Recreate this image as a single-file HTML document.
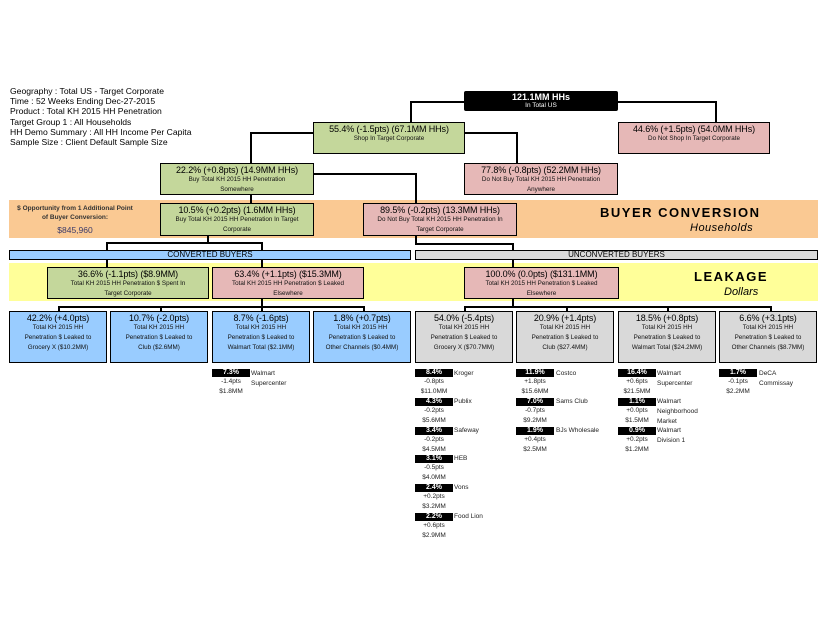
<!DOCTYPE html>
<html><head><meta charset="utf-8"><style>
body{margin:0;width:825px;height:638px;background:#fff;position:relative;font-family:"Liberation Sans",sans-serif;overflow:hidden}
div{position:absolute;box-sizing:border-box}
.b{border:1.5px solid #000;text-align:center;line-height:1.15}
.t{font-size:9px;color:#000;margin-top:1px;letter-spacing:-0.1px}
.s{font-size:6.3px;line-height:10px;color:#111}
.g{background:#c4d79b}.p{background:#e6b8b7}.bl{background:#99ccff}.gr{background:#d9d9d9}
.h{background:#000;height:1.5px}.v{background:#000;width:1.5px}
.info{left:10px;top:86px;font-size:8.6px;line-height:10.2px;color:#000}
.k{background:#000;color:#fff;font-size:7px;font-weight:bold;text-align:center;width:38px;height:8px;line-height:8px}
.sm{font-size:6.5px;color:#222;text-align:center;width:38px}
.nm{font-size:6.5px;color:#222;line-height:10px}
</style></head><body>
<div class="info">Geography : Total US - Target Corporate<br>Time : 52 Weeks Ending Dec-27-2015<br>Product : Total KH 2015 HH Penetration<br>Target Group 1 : All Households<br>HH Demo Summary : All HH Income Per Capita<br>Sample Size : Client Default Sample Size</div>

<div style="left:9px;top:200px;width:809px;height:38px;background:#fac993"></div>
<div style="left:9px;top:263px;width:809px;height:38px;background:#ffff99"></div>

<!-- connectors -->
<div class="h" style="left:410px;top:101px;width:54px"></div><div class="v" style="left:410px;top:101px;height:21px"></div>
<div class="h" style="left:618px;top:101px;width:98px"></div><div class="v" style="left:715px;top:101px;height:21px"></div>
<div class="h" style="left:250px;top:132px;width:63px"></div><div class="v" style="left:250px;top:132px;height:31px"></div>
<div class="h" style="left:465px;top:132px;width:52px"></div><div class="v" style="left:516px;top:132px;height:31px"></div>
<div class="v" style="left:250px;top:194px;height:9px"></div>
<div class="h" style="left:313px;top:173px;width:103px"></div><div class="v" style="left:415px;top:173px;height:30px"></div>
<div class="v" style="left:207px;top:235px;height:8px"></div><div class="h" style="left:106px;top:242px;width:156px"></div>
<div class="v" style="left:106px;top:242px;height:8px"></div><div class="v" style="left:261px;top:242px;height:8px"></div>
<div class="v" style="left:415px;top:235px;height:9px"></div><div class="h" style="left:415px;top:243px;width:98px"></div><div class="v" style="left:512px;top:243px;height:7px"></div>
<div class="v" style="left:106px;top:259px;height:8px"></div><div class="v" style="left:261px;top:259px;height:8px"></div><div class="v" style="left:512px;top:259px;height:8px"></div>
<div class="v" style="left:261px;top:298px;height:9px"></div><div class="h" style="left:58px;top:306px;width:306px"></div>
<div class="v" style="left:58px;top:306px;height:5px"></div><div class="v" style="left:160px;top:306px;height:5px"></div><div class="v" style="left:261px;top:306px;height:5px"></div><div class="v" style="left:363px;top:306px;height:5px"></div>
<div class="v" style="left:512px;top:298px;height:9px"></div><div class="h" style="left:464px;top:306px;width:307px"></div>
<div class="v" style="left:464px;top:306px;height:5px"></div><div class="v" style="left:566px;top:306px;height:5px"></div><div class="v" style="left:667px;top:306px;height:5px"></div><div class="v" style="left:770px;top:306px;height:5px"></div>

<!-- boxes -->
<div class="b" style="left:464px;top:91px;width:154px;height:20px;background:#000;color:#fff;border-radius:2px"><div style="font-size:9px;font-weight:bold;position:static">121.1MM HHs</div><div style="font-size:6.5px;position:static">In Total US</div></div>
<div class="b g" style="left:313px;top:122px;width:152px;height:32px"><div class="t" style="position:static">55.4% (-1.5pts) (67.1MM HHs)</div><div class="s" style="position:static">Shop In Target Corporate</div></div>
<div class="b p" style="left:618px;top:122px;width:152px;height:32px"><div class="t" style="position:static">44.6% (+1.5pts) (54.0MM HHs)</div><div class="s" style="position:static">Do Not Shop In Target Corporate</div></div>
<div class="b g" style="left:160px;top:163px;width:154px;height:32px"><div class="t" style="position:static">22.2% (+0.8pts) (14.9MM HHs)</div><div class="s" style="position:static">Buy Total KH 2015 HH Penetration<br>Somewhere</div></div>
<div class="b p" style="left:464px;top:163px;width:154px;height:32px"><div class="t" style="position:static">77.8% (-0.8pts) (52.2MM HHs)</div><div class="s" style="position:static">Do Not Buy Total KH 2015 HH Penetration<br>Anywhere</div></div>
<div class="b g" style="left:160px;top:203px;width:154px;height:33px"><div class="t" style="position:static">10.5% (+0.2pts) (1.6MM HHs)</div><div class="s" style="position:static">Buy Total KH 2015 HH Penetration In Target<br>Corporate</div></div>
<div class="b p" style="left:363px;top:203px;width:154px;height:33px"><div class="t" style="position:static">89.5% (-0.2pts) (13.3MM HHs)</div><div class="s" style="position:static">Do Not Buy Total KH 2015 HH Penetration In<br>Target Corporate</div></div>

<div style="left:10px;top:204px;width:130px;text-align:center;font-size:6.5px;font-weight:bold;color:#333;line-height:9px">$ Opportunity from 1 Additional Point<br>of Buyer Conversion:</div>
<div style="left:10px;top:225px;width:130px;text-align:center;font-size:8.5px;color:#3a3a6a">$845,960</div>
<div style="left:600px;top:205px;font-size:13px;font-weight:bold;letter-spacing:1.5px">BUYER CONVERSION</div>
<div style="left:690px;top:222px;font-size:11px;font-style:italic;letter-spacing:0.5px">Households</div>

<div class="b bl" style="left:9px;top:250px;width:402px;height:10px;font-size:8px;line-height:7px">CONVERTED BUYERS</div>
<div class="b gr" style="left:415px;top:250px;width:403px;height:10px;font-size:8px;line-height:7px">UNCONVERTED BUYERS</div>

<div class="b g" style="left:47px;top:267px;width:162px;height:32px"><div class="t" style="position:static">36.6% (-1.1pts) ($8.9MM)</div><div class="s" style="position:static">Total KH 2015 HH Penetration $ Spent In<br>Target Corporate</div></div>
<div class="b p" style="left:212px;top:267px;width:152px;height:32px"><div class="t" style="position:static">63.4% (+1.1pts) ($15.3MM)</div><div class="s" style="position:static">Total KH 2015 HH Penetration $ Leaked<br>Elsewhere</div></div>
<div class="b p" style="left:464px;top:267px;width:155px;height:32px"><div class="t" style="position:static">100.0% (0.0pts) ($131.1MM)</div><div class="s" style="position:static">Total KH 2015 HH Penetration $ Leaked<br>Elsewhere</div></div>
<div style="left:694px;top:269px;font-size:13px;font-weight:bold;letter-spacing:1.5px">LEAKAGE</div>
<div style="left:724px;top:286px;font-size:11px;font-style:italic">Dollars</div>

<div class="b bl" style="left:9px;top:311px;width:98px;height:52px"><div class="t" style="position:static">42.2% (+4.0pts)</div><div class="s" style="position:static">Total KH 2015 HH<br>Penetration $ Leaked to<br>Grocery X ($10.2MM)</div></div>
<div class="b bl" style="left:110px;top:311px;width:98px;height:52px"><div class="t" style="position:static">10.7% (-2.0pts)</div><div class="s" style="position:static">Total KH 2015 HH<br>Penetration $ Leaked to<br>Club ($2.6MM)</div></div>
<div class="b bl" style="left:212px;top:311px;width:98px;height:52px"><div class="t" style="position:static">8.7% (-1.6pts)</div><div class="s" style="position:static">Total KH 2015 HH<br>Penetration $ Leaked to<br>Walmart Total ($2.1MM)</div></div>
<div class="b bl" style="left:313px;top:311px;width:98px;height:52px"><div class="t" style="position:static">1.8% (+0.7pts)</div><div class="s" style="position:static">Total KH 2015 HH<br>Penetration $ Leaked to<br>Other Channels ($0.4MM)</div></div>
<div class="b gr" style="left:415px;top:311px;width:98px;height:52px"><div class="t" style="position:static">54.0% (-5.4pts)</div><div class="s" style="position:static">Total KH 2015 HH<br>Penetration $ Leaked to<br>Grocery X ($70.7MM)</div></div>
<div class="b gr" style="left:516px;top:311px;width:98px;height:52px"><div class="t" style="position:static">20.9% (+1.4pts)</div><div class="s" style="position:static">Total KH 2015 HH<br>Penetration $ Leaked to<br>Club ($27.4MM)</div></div>
<div class="b gr" style="left:618px;top:311px;width:98px;height:52px"><div class="t" style="position:static">18.5% (+0.8pts)</div><div class="s" style="position:static">Total KH 2015 HH<br>Penetration $ Leaked to<br>Walmart Total ($24.2MM)</div></div>
<div class="b gr" style="left:719px;top:311px;width:98px;height:52px"><div class="t" style="position:static">6.6% (+3.1pts)</div><div class="s" style="position:static">Total KH 2015 HH<br>Penetration $ Leaked to<br>Other Channels ($8.7MM)</div></div>

<!-- sub items -->
<div class="k" style="left:212px;top:369px">7.3%</div><div class="sm" style="left:212px;top:378px">-1.4pts</div><div class="sm" style="left:212px;top:388px">$1.8MM</div><div class="nm" style="left:251px;top:369px">Walmart<br>Supercenter</div>

<div class="k" style="left:415px;top:369px">8.4%</div><div class="sm" style="left:415px;top:378px">-0.8pts</div><div class="sm" style="left:415px;top:388px">$11.0MM</div><div class="nm" style="left:454px;top:369px">Kroger</div>
<div class="k" style="left:415px;top:398px">4.3%</div><div class="sm" style="left:415px;top:407px">-0.2pts</div><div class="sm" style="left:415px;top:417px">$5.6MM</div><div class="nm" style="left:454px;top:397px">Publix</div>
<div class="k" style="left:415px;top:427px">3.4%</div><div class="sm" style="left:415px;top:436px">-0.2pts</div><div class="sm" style="left:415px;top:446px">$4.5MM</div><div class="nm" style="left:454px;top:426px">Safeway</div>
<div class="k" style="left:415px;top:455px">3.1%</div><div class="sm" style="left:415px;top:464px">-0.5pts</div><div class="sm" style="left:415px;top:474px">$4.0MM</div><div class="nm" style="left:454px;top:454px">HEB</div>
<div class="k" style="left:415px;top:484px">2.4%</div><div class="sm" style="left:415px;top:493px">+0.2pts</div><div class="sm" style="left:415px;top:503px">$3.2MM</div><div class="nm" style="left:454px;top:483px">Vons</div>
<div class="k" style="left:415px;top:513px">2.2%</div><div class="sm" style="left:415px;top:522px">+0.6pts</div><div class="sm" style="left:415px;top:532px">$2.9MM</div><div class="nm" style="left:454px;top:512px">Food Lion</div>

<div class="k" style="left:516px;top:369px">11.9%</div><div class="sm" style="left:516px;top:378px">+1.8pts</div><div class="sm" style="left:516px;top:388px">$15.6MM</div><div class="nm" style="left:556px;top:369px">Costco</div>
<div class="k" style="left:516px;top:398px">7.0%</div><div class="sm" style="left:516px;top:407px">-0.7pts</div><div class="sm" style="left:516px;top:417px">$9.2MM</div><div class="nm" style="left:556px;top:397px">Sams Club</div>
<div class="k" style="left:516px;top:427px">1.9%</div><div class="sm" style="left:516px;top:436px">+0.4pts</div><div class="sm" style="left:516px;top:446px">$2.5MM</div><div class="nm" style="left:556px;top:426px">BJs Wholesale</div>

<div class="k" style="left:618px;top:369px">16.4%</div><div class="sm" style="left:618px;top:378px">+0.6pts</div><div class="sm" style="left:618px;top:388px">$21.5MM</div><div class="nm" style="left:657px;top:369px">Walmart<br>Supercenter</div>
<div class="k" style="left:618px;top:398px">1.1%</div><div class="sm" style="left:618px;top:407px">+0.0pts</div><div class="sm" style="left:618px;top:417px">$1.5MM</div><div class="nm" style="left:657px;top:397px">Walmart<br>Neighborhood<br>Market</div>
<div class="k" style="left:618px;top:427px">0.9%</div><div class="sm" style="left:618px;top:436px">+0.2pts</div><div class="sm" style="left:618px;top:446px">$1.2MM</div><div class="nm" style="left:657px;top:426px">Walmart<br>Division 1</div>

<div class="k" style="left:719px;top:369px">1.7%</div><div class="sm" style="left:719px;top:378px">-0.1pts</div><div class="sm" style="left:719px;top:388px">$2.2MM</div><div class="nm" style="left:759px;top:369px">DeCA<br>Commissay</div>
</body></html>
